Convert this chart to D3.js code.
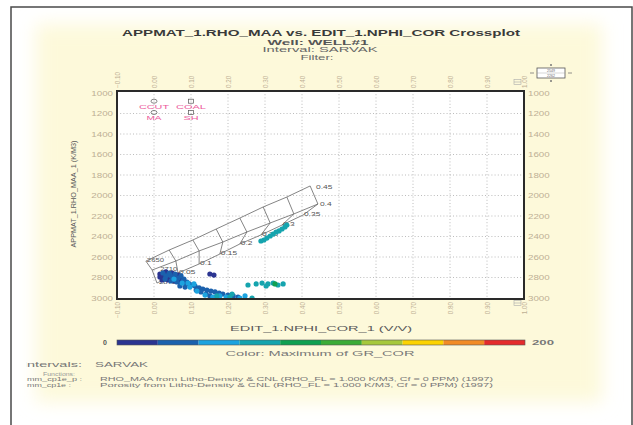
<!DOCTYPE html>
<html>
<head>
<meta charset="utf-8">
<script src="https://cdn.jsdelivr.net/npm/d3@7/dist/d3.min.js"></script>
<style>
    html, body { margin: 0; padding: 0; background: #fff; }
    svg { display: block; font-family: "Liberation Sans", Arial, sans-serif; }
</style>
</head>
<body>
<div id="chart"></div>
<script>
// Ejes: ticks de porosidad neutrónica y densidad de matriz aparente
const nphiTicks = [-0.10, 0.00, 0.10, 0.20, 0.30, 0.40, 0.50, 0.60, 0.70, 0.80, 0.90, 1.00];
const rhoTicks = [1000, 1200, 1400, 1600, 1800, 2000, 2200, 2400, 2600, 2800, 3000];
const nphiGrid = [0.00, 0.10, 0.20, 0.30, 0.40, 0.50, 0.60, 0.70, 0.80, 0.90];
const rhoGrid = [1200, 1400, 1600, 1800, 2000, 2200, 2400, 2600, 2800];

// Escala de color GR_COR (0 - 200)
const grBreaks = [20, 40, 60, 80, 100, 120, 140, 160, 180];
const grColors = ["#2b3591", "#1b61ad", "#1ca3df", "#15a4ae", "#10a052", "#3cac38", "#a6c83c", "#fcd300", "#f18b25", "#e42b2c"];

// Líneas de litología (NPHI, RHO_MAA) con nodos de porosidad 0 - 0.35
const sandLine = [[-0.022, 2640], [0.041, 2532], [0.105, 2434], [0.168, 2327], [0.232, 2220], [0.295, 2112], [0.359, 2015], [0.422, 1907]];
const limeLine = [[-0.005, 2727], [0.059, 2639], [0.122, 2541], [0.186, 2454], [0.251, 2356], [0.314, 2268], [0.378, 2180], [0.443, 2083]];
const doloLine = [[0.008, 2854], [0.065, 2756], [0.122, 2668], [0.178, 2571], [0.232, 2473], [0.289, 2385], [0.346, 2288], [0.403, 2190]];
const doloPorosityLabels = ["", "0.05", "0.1", "0.15", "0.2", "0.25", "0.3", "0.35"];
const limeEndLabel = "0.4";
const sandEndLabel = "0.45";
const matrixLabels = ["2650", "2710", "2870"];

// Puntos de minerales de referencia
const mineralNames = ["CCUT", "MA", "COAL", "SH"];
const mineralNphi = [0.00, 0.00, 0.10, 0.10];
const mineralRho = [1080, 1190, 1080, 1190];

// Muestras: [NPHI_COR, RHO_MAA, GR_COR]
const samples = [
    [0.016, 2766, 12], [0.024, 2756, 25], [0.032, 2746, 12], [0.041, 2756, 25], [0.049, 2756, 12],
    [0.057, 2766, 25], [0.065, 2776, 12], [0.073, 2785, 25], [0.016, 2795, 12], [0.024, 2785, 12],
    [0.032, 2785, 25], [0.041, 2795, 12], [0.049, 2795, 25], [0.057, 2795, 12], [0.065, 2805, 25],
    [0.073, 2815, 12], [0.081, 2815, 25], [0.022, 2824, 12], [0.030, 2815, 25], [0.038, 2824, 12],
    [0.046, 2834, 25], [0.054, 2834, 12], [0.062, 2844, 25], [0.070, 2844, 12], [0.086, 2854, 25],
    [0.095, 2863, 12], [0.151, 2766, 12], [0.162, 2776, 12], [0.165, 2995, 15],
    [0.043, 2776, 30], [0.059, 2815, 30], [0.078, 2834, 30], [0.089, 2844, 30], [0.103, 2873, 30],
    [0.111, 2883, 30], [0.122, 2902, 30], [0.132, 2912, 30], [0.143, 2922, 30], [0.154, 2932, 30],
    [0.165, 2941, 30], [0.176, 2951, 30], [0.186, 2961, 30], [0.200, 2971, 30], [0.214, 2980, 30],
    [0.227, 2990, 30], [0.114, 2922, 30], [0.127, 2941, 30], [0.141, 2961, 30], [0.151, 2980, 30],
    [0.070, 2883, 30], [0.084, 2893, 30],
    [0.054, 2815, 50], [0.076, 2854, 50], [0.097, 2893, 50], [0.116, 2932, 50], [0.138, 2971, 50],
    [0.159, 2990, 50], [0.178, 2980, 50], [0.195, 2990, 50], [0.232, 3000, 50], [0.246, 2980, 50],
    [0.092, 2854, 50], [0.108, 2863, 50],
    [0.170, 2980, 70], [0.205, 2990, 70], [0.265, 3000, 70], [0.254, 2873, 70], [0.276, 2863, 70],
    [0.292, 2854, 70], [0.308, 2863, 70], [0.322, 2854, 70], [0.335, 2873, 70], [0.349, 2863, 70],
    [0.359, 2288, 70], [0.354, 2307, 70], [0.346, 2327, 70], [0.338, 2346, 70], [0.330, 2356, 70],
    [0.322, 2376, 70], [0.314, 2395, 70], [0.305, 2415, 70], [0.297, 2434, 70], [0.289, 2444, 70],
    [0.327, 2863, 88], [0.303, 2883, 75], [0.211, 2961, 75]
];

const width = 633, height = 425;
const plot = { left: 117, right: 524, top: 91, bottom: 299 };

const svg = d3.select("#chart").append("svg")
    .attr("width", width)
    .attr("height", height);

const defs = svg.append("defs");
defs.append("filter").attr("id", "soft").attr("x", "-10%").attr("y", "-10%").attr("width", "120%").attr("height", "120%")
    .append("feGaussianBlur").attr("stdDeviation", 9);
defs.append("clipPath").attr("id", "plotClip")
    .append("rect")
    .attr("x", plot.left).attr("y", plot.top)
    .attr("width", plot.right - plot.left).attr("height", plot.bottom - plot.top);
defs.append("clipPath").attr("id", "leftClip")
    .append("rect").attr("x", 26).attr("y", 0).attr("width", width).attr("height", height);

/**
 * Estira horizontalmente un texto multiplicando su ancho natural.
 */
function stretch(sel, factor) {
    sel.each(function () {
        const w = this.getComputedTextLength();
        d3.select(this).attr("textLength", w * factor).attr("lengthAdjust", "spacingAndGlyphs");
    });
}

// Fondo crema difuminado y marco gris
svg.append("rect")
    .attr("x", 36).attr("y", 24).attr("width", 566).attr("height", 378)
    .attr("fill", "#fdf9da")
    .attr("filter", "url(#soft)");
svg.append("path")
    .attr("d", `M11,${height} V7 H632 V${height}`)
    .attr("fill", "none").attr("stroke", "#4a4a4a").attr("stroke-width", 1.5);

// Títulos
const titles = svg.append("g").attr("fill", "#3a3a3a").attr("text-anchor", "middle");
titles.append("text").attr("x", 321).attr("y", 35.5)
    .attr("font-size", 9.2).attr("font-weight", "bold")
    .attr("textLength", 398).attr("lengthAdjust", "spacingAndGlyphs")
    .text("APPMAT_1.RHO_MAA vs. EDIT_1.NPHI_COR Crossplot");
titles.append("text").attr("x", 318).attr("y", 44.5)
    .attr("font-size", 6.5).attr("font-weight", "bold").attr("fill", "#555")
    .attr("textLength", 101).attr("lengthAdjust", "spacingAndGlyphs")
    .text("Well: WELL#1");
titles.append("text").attr("x", 320).attr("y", 52)
    .attr("font-size", 6.5).attr("fill", "#666")
    .attr("textLength", 115).attr("lengthAdjust", "spacingAndGlyphs")
    .text("Interval: SARVAK");
titles.append("text").attr("x", 317).attr("y", 59.5)
    .attr("font-size", 6.5).attr("fill", "#666")
    .attr("textLength", 33).attr("lengthAdjust", "spacingAndGlyphs")
    .text("Filter:");

// Escalas
const x = d3.scaleLinear().domain([-0.10, 1.00]).range([plot.left, plot.right]);
const y = d3.scaleLinear().domain([1000, 3000]).range([93, 298]);
const grColor = d3.scaleThreshold().domain(grBreaks).range(grColors);

// Área de gráfico
svg.append("rect")
    .attr("x", plot.left).attr("y", plot.top)
    .attr("width", plot.right - plot.left).attr("height", plot.bottom - plot.top)
    .attr("fill", "#fff");

// Rejilla punteada
const grid = svg.append("g").attr("stroke", "#b4b4b4").attr("stroke-width", 0.9).attr("stroke-dasharray", "1,2.2");
grid.selectAll(".vg").data(nphiGrid).enter().append("line")
    .attr("x1", d => x(d)).attr("x2", d => x(d))
    .attr("y1", plot.top).attr("y2", plot.bottom);
grid.selectAll(".hg").data(rhoGrid).enter().append("line")
    .attr("x1", plot.left).attr("x2", plot.right)
    .attr("y1", d => y(d)).attr("y2", d => y(d));

// Ejes (solo etiquetas)
const tickColor = "#bdb095";
const fmtX = d3.format(".2f");

function styleAxis(g) {
    g.select(".domain").remove();
    g.selectAll("text").attr("fill", tickColor).attr("font-size", 6.3);
}

const leftAxis = svg.append("g").attr("transform", `translate(${plot.left},0)`)
    .call(d3.axisLeft(y).tickValues(rhoTicks).tickSize(0).tickPadding(4).tickFormat(d3.format("d")))
    .call(styleAxis);
const rightAxis = svg.append("g").attr("transform", `translate(${plot.right},0)`)
    .call(d3.axisRight(y).tickValues(rhoTicks).tickSize(0).tickPadding(4).tickFormat(d3.format("d")))
    .call(styleAxis);
stretch(leftAxis.selectAll("text"), 1.55);
stretch(rightAxis.selectAll("text"), 1.55);

const bottomAxis = svg.append("g").attr("transform", `translate(0,${plot.bottom})`)
    .call(d3.axisBottom(x).tickValues(nphiTicks).tickSize(0).tickFormat(fmtX))
    .call(styleAxis);
bottomAxis.selectAll("text")
    .attr("transform", "rotate(-90)")
    .attr("x", -3).attr("y", 0).attr("dy", "0.35em")
    .style("text-anchor", "end");

const topAxis = svg.append("g").attr("transform", `translate(0,${plot.top})`)
    .call(d3.axisTop(x).tickValues(nphiTicks).tickSize(0).tickFormat(fmtX))
    .call(styleAxis);
topAxis.selectAll("text")
    .attr("transform", "rotate(-90)")
    .attr("x", 3).attr("y", 0).attr("dy", "0.35em")
    .style("text-anchor", "start");

// Títulos de ejes
svg.append("text")
    .attr("transform", "translate(76,194) rotate(-90)")
    .attr("text-anchor", "middle").attr("font-size", 6.5).attr("fill", "#5a5a5a")
    .attr("textLength", 107).attr("lengthAdjust", "spacingAndGlyphs")
    .text("APPMAT_1.RHO_MAA_1 (K/M3)");
svg.append("text")
    .attr("x", 321).attr("y", 331)
    .attr("text-anchor", "middle").attr("font-size", 7).attr("fill", "#5a5a5a")
    .attr("textLength", 182).attr("lengthAdjust", "spacingAndGlyphs")
    .text("EDIT_1.NPHI_COR_1 (V/V)");

// Red de litología
const net = svg.append("g").attr("clip-path", "url(#plotClip)");
const lineGen = d3.line().x(d => x(d[0])).y(d => y(d[1]));
const netStyle = s => s.attr("fill", "none").attr("stroke", "#666").attr("stroke-width", 0.8);

[sandLine, limeLine, doloLine].forEach(l => net.append("path").attr("d", lineGen(l)).call(netStyle));
sandLine.forEach((p, i) => {
    net.append("path").attr("d", lineGen([sandLine[i], limeLine[i], doloLine[i]])).call(netStyle);
});

const netLabels = svg.append("g").attr("font-size", 6).attr("fill", "#555");
doloLine.forEach((p, i) => {
    if (!doloPorosityLabels[i]) return;
    netLabels.append("text").attr("x", x(p[0]) + 1).attr("y", y(p[1]) + 1).text(doloPorosityLabels[i]);
});
netLabels.append("text").attr("x", x(limeLine[7][0]) + 2).attr("y", y(limeLine[7][1]) + 2).text(limeEndLabel);
netLabels.append("text").attr("x", x(sandLine[7][0]) + 6).attr("y", y(sandLine[7][1]) + 3).text(sandEndLabel);
[sandLine, limeLine, doloLine].forEach((l, i) => {
    netLabels.append("text").attr("x", x(l[0][0]) + [1, 8, 2][i]).attr("y", y(l[0][1]) + 1)
        .attr("font-size", 5.5).text(matrixLabels[i]);
});
stretch(netLabels.selectAll("text"), 1.4);

// Puntos de minerales
const minerals = svg.append("g");
mineralNames.forEach((name, i) => {
    const cx = x(mineralNphi[i]), cy = y(mineralRho[i]);
    if (i < 2) {
        minerals.append("ellipse").attr("cx", cx).attr("cy", cy).attr("rx", 3).attr("ry", 2)
            .attr("fill", "none").attr("stroke", "#555").attr("stroke-width", 0.7);
    } else {
        minerals.append("rect").attr("x", cx - 2.5).attr("y", cy - 2).attr("width", 5).attr("height", 4)
            .attr("fill", "none").attr("stroke", "#555").attr("stroke-width", 0.7);
    }
    minerals.append("text").attr("x", cx).attr("y", cy + 7.5)
        .attr("text-anchor", "middle").attr("font-size", 6).attr("fill", "#ec5a9c")
        .attr("textLength", name.length * 7.5).attr("lengthAdjust", "spacingAndGlyphs")
        .text(name);
});

// Muestras
svg.append("g").attr("clip-path", "url(#plotClip)")
    .selectAll("circle")
    .data(samples.slice().sort((a, b) => a[2] - b[2]))
    .enter().append("circle")
    .attr("cx", d => x(d[0]))
    .attr("cy", d => y(d[1]))
    .attr("r", 2.6)
    .attr("fill", d => grColor(d[2]));

// Marco del gráfico
svg.append("rect")
    .attr("x", plot.left).attr("y", plot.top)
    .attr("width", plot.right - plot.left).attr("height", plot.bottom - plot.top)
    .attr("fill", "none").attr("stroke", "#2a2a2a").attr("stroke-width", 2);

// Pequeños iconos de escala
[82, 303].forEach(cy => {
    svg.append("rect").attr("x", 514).attr("y", cy - 2.5).attr("width", 7).attr("height", 5)
        .attr("fill", "none").attr("stroke", "#aaa").attr("stroke-width", 0.6);
    svg.append("line").attr("x1", 514).attr("x2", 521).attr("y1", cy).attr("y2", cy)
        .attr("stroke", "#aaa").attr("stroke-width", 0.6);
});
const keyBox = svg.append("g");
keyBox.append("rect").attr("x", 537).attr("y", 68).attr("width", 28).attr("height", 10)
    .attr("fill", "#fff").attr("stroke", "#555").attr("stroke-width", 0.8);
keyBox.append("line").attr("x1", 537).attr("x2", 565).attr("y1", 73).attr("y2", 73).attr("stroke", "#999").attr("stroke-width", 0.4);
[[530, 534], [568, 572]].forEach(s => keyBox.append("line").attr("x1", s[0]).attr("x2", s[1]).attr("y1", 73).attr("y2", 73)
    .attr("stroke", "#777").attr("stroke-width", 0.8));
[65, 81].forEach(cy => keyBox.append("circle").attr("cx", 551).attr("cy", cy).attr("r", 1).attr("fill", "#777"));
keyBox.append("text").attr("x", 551).attr("y", 72).attr("text-anchor", "middle").attr("font-size", 3.5).attr("fill", "#666").text("2549");
keyBox.append("text").attr("x", 551).attr("y", 77).attr("text-anchor", "middle").attr("font-size", 3.5).attr("fill", "#666").text("2262");

// Barra de color
const grScale = d3.scaleLinear().domain([0, 200]).range([117, 525]);
const bins = [0].concat(grBreaks);
svg.append("g").selectAll("rect").data(grColors).enter().append("rect")
    .attr("x", (d, i) => grScale(bins[i]))
    .attr("width", (d, i) => grScale(i < 9 ? bins[i + 1] : 200) - grScale(bins[i]))
    .attr("y", 340).attr("height", 5)
    .attr("fill", d => d);
svg.append("rect").attr("x", 117).attr("y", 340).attr("width", 408).attr("height", 5)
    .attr("fill", "none").attr("stroke", "#555").attr("stroke-width", 0.6);
svg.append("text").attr("x", 105).attr("y", 345).attr("text-anchor", "middle")
    .attr("font-size", 7).attr("font-weight", "bold").attr("fill", "#555").text("0");
svg.append("text").attr("x", 532).attr("y", 345)
    .attr("font-size", 7).attr("font-weight", "bold").attr("fill", "#777")
    .attr("textLength", 22).attr("lengthAdjust", "spacingAndGlyphs").text("200");
svg.append("text").attr("x", 320).attr("y", 356).attr("text-anchor", "middle")
    .attr("font-size", 7).attr("fill", "#777")
    .attr("textLength", 189).attr("lengthAdjust", "spacingAndGlyphs")
    .text("Color: Maximum of GR_COR");

// Notas inferiores
const notes = svg.append("g").attr("clip-path", "url(#leftClip)").attr("fill", "#777");
notes.append("text").attr("x", 23).attr("y", 367).attr("font-size", 7.5)
    .attr("textLength", 59).attr("lengthAdjust", "spacingAndGlyphs").text("Intervals:");
notes.append("text").attr("x", 95).attr("y", 367).attr("font-size", 7.5)
    .attr("textLength", 53).attr("lengthAdjust", "spacingAndGlyphs").text("SARVAK");
notes.append("text").attr("x", 43).attr("y", 376).attr("font-size", 5.5).attr("fill", "#999")
    .attr("textLength", 32).attr("lengthAdjust", "spacingAndGlyphs").text("Functions:");
notes.append("text").attr("x", 27).attr("y", 381).attr("font-size", 5.5)
    .attr("textLength", 55).attr("lengthAdjust", "spacingAndGlyphs").text("mm_cp1e_p :");
notes.append("text").attr("x", 27).attr("y", 386.5).attr("font-size", 5.5)
    .attr("textLength", 44).attr("lengthAdjust", "spacingAndGlyphs").text("mm_cp1e :");
notes.append("text").attr("x", 100).attr("y", 381).attr("font-size", 5.5)
    .attr("textLength", 393).attr("lengthAdjust", "spacingAndGlyphs")
    .text("RHO_MAA from Litho-Density & CNL (RHO_FL = 1.000 K/M3, Cf = 0 PPM) (1997)");
notes.append("text").attr("x", 100).attr("y", 386.5).attr("font-size", 5.5)
    .attr("textLength", 393).attr("lengthAdjust", "spacingAndGlyphs")
    .text("Porosity from Litho-Density & CNL (RHO_FL = 1.000 K/M3, Cf = 0 PPM) (1997)");
</script>
</body>
</html>
